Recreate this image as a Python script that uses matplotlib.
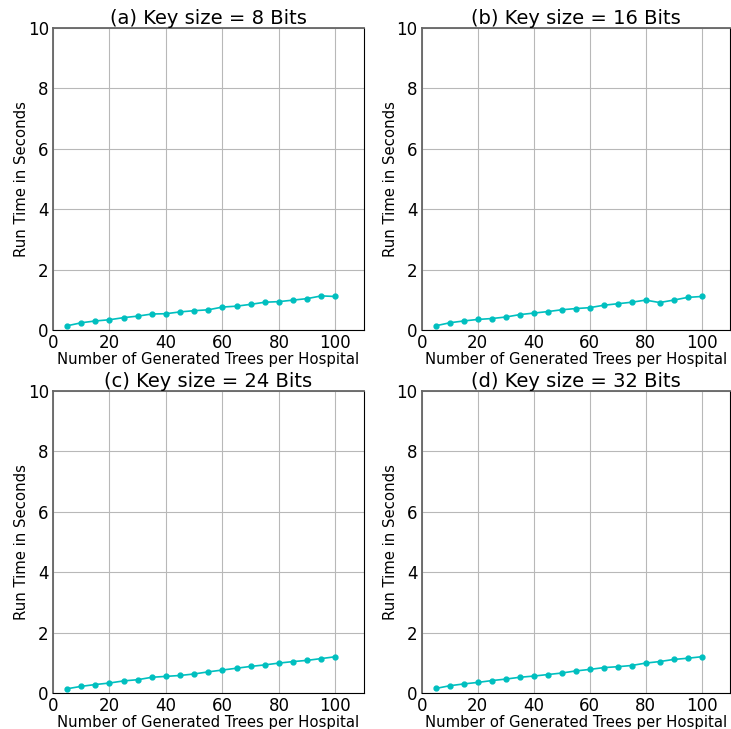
import numpy as np
import matplotlib.pyplot as plt

trees = [5, 10, 15, 20, 25, 30, 35, 40, 45, 50, 55, 60, 65, 70, 75, 80, 85, 90, 95, 100]

time_8 = [0.14, 0.24, 0.30, 0.34, 0.41, 0.46, 0.53, 0.54, 0.60, 0.64,
          0.67, 0.76, 0.79, 0.85, 0.92, 0.94, 0.99, 1.04, 1.13, 1.11]
time_16 = [0.14, 0.24, 0.30, 0.35, 0.38, 0.43, 0.51, 0.56, 0.61, 0.67,
           0.71, 0.74, 0.82, 0.87, 0.92, 0.99, 0.91, 0.99, 1.08, 1.11]
time_24 = [0.14, 0.22, 0.28, 0.33, 0.40, 0.44, 0.52, 0.55, 0.58, 0.63,
           0.70, 0.76, 0.82, 0.88, 0.93, 0.99, 1.04, 1.08, 1.14, 1.20]
time_32 = [0.15, 0.24, 0.30, 0.35, 0.41, 0.46, 0.52, 0.56, 0.61, 0.66,
           0.73, 0.78, 0.84, 0.87, 0.91, 0.99, 1.04, 1.11, 1.15, 1.20]

titles = ['(a) Key size = 8 Bits', '(b) Key size = 16 Bits',
          '(c) Key size = 24 Bits', '(d) Key size = 32 Bits']
series = [time_8, time_16, time_24, time_32]

fig = plt.figure(figsize=(7.31, 7.29), dpi=100)
positions = [[0.0725, 0.5473, 0.425, 0.4143],
             [0.577, 0.5473, 0.421, 0.4143],
             [0.0725, 0.0494, 0.425, 0.4143],
             [0.577, 0.0494, 0.421, 0.4143]]

for pos, title, ys in zip(positions, titles, series):
    ax = fig.add_axes(pos)
    ax.plot(trees, ys, color='c', marker='o', markersize=3.5, linewidth=1.2)
    ax.set_xlim(0, 110)
    ax.set_ylim(0, 10)
    ax.set_xticks([0, 20, 40, 60, 80, 100])
    ax.set_yticks([0, 2, 4, 6, 8, 10])
    ax.tick_params(labelsize=12, length=0, pad=3)
    ax.grid(True, color='#b8b8b8')
    ax.spines['left'].set_color('#666666')
    ax.spines['top'].set_color('#666666')
    ax.spines['left'].set_linewidth(1.3)
    ax.spines['top'].set_linewidth(1.3)
    ax.set_title(title, fontsize=14, pad=2)
    ax.set_xlabel('Number of Generated Trees per Hospital', fontsize=10.7, labelpad=0)
    ax.set_ylabel('Run Time in Seconds', fontsize=10.7, labelpad=-1)

fig.savefig('out.png', dpi=100)
